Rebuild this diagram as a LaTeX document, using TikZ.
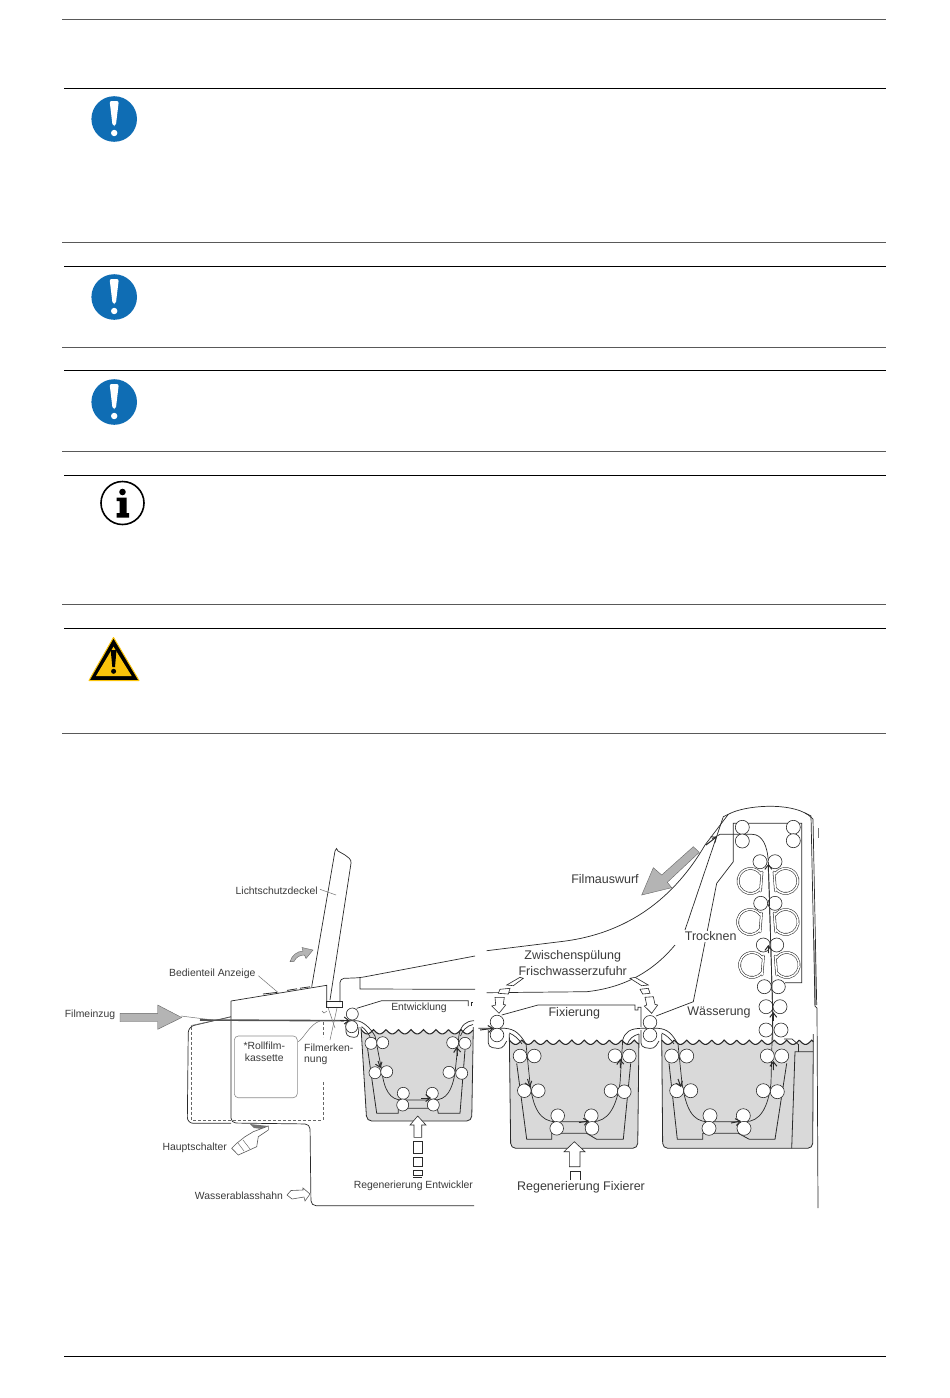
\documentclass[tikz,border=0pt]{standalone}
\usepackage{fontspec}
\setmainfont{Liberation Sans}
\usetikzlibrary{arrows.meta}
\definecolor{tankfill}{HTML}{D9D9D9}
\definecolor{ink}{HTML}{2A2A2A}
\definecolor{labelink}{HTML}{3A3A3A}
\definecolor{arrowgray}{HTML}{B4B4B4}
\definecolor{iconblue}{HTML}{0F6DB4}
\definecolor{signyellow}{HTML}{FAC30A}
\tikzset{
  rulerA/.style={draw=black!65,line width=0.9pt},
  rulerB/.style={draw=black,line width=0.8pt},
  mline/.style={draw=ink,line width=0.7pt},
  thinline/.style={draw=black!55,line width=0.5pt},
  guide/.style={draw=ink,line width=0.8pt},
  film/.style={draw=ink,line width=0.7pt},
  roller/.style={draw=ink,line width=0.6pt,fill=white},
  wave/.style={draw=ink,line width=1.1pt},
  tankedge/.style={draw=ink,line width=0.8pt},
  dashline/.style={draw=black!60,line width=0.45pt,dash pattern=on 3pt off 2pt},
  grayarrow/.style={fill=arrowgray,draw=black!60,line width=0.4pt},
  openarrow/.style={draw=ink,line width=0.6pt,fill=white},
  small/.style={text=labelink,inner sep=0pt,yshift=-0.8pt,font=\fontsize{10.4}{12}\selectfont},
  big/.style={text=labelink,inner sep=0pt,yshift=-0.8pt,font=\fontsize{12.5}{14}\selectfont},
  barb/.style={draw=ink,line width=1pt,-{Straight Barb[length=4.5pt,width=7pt]}},
}
\newcommand{\roll}[3]{\draw[roller] (#1,#2) circle (#3);}
\newcommand{\wavy}[3]{\draw[wave] plot[domain=#1:#2,samples=200] (\x,{#3+4.4*abs(sin(14.4*(\x-#1)))});}
\newcommand{\tankbody}[6]{% x-left top, x-right top, x-left bottom, x-right bottom, wave y, bottom y
  \fill[tankfill] plot[domain=#1:#2,samples=200] (\x,{#5+4.4*abs(sin(14.4*(\x-#1)))}) [rounded corners=5pt] -- (#4,#6) -- (#3,#6) [sharp corners] -- cycle;
}
\newcommand{\bluesign}[2]{%
  \fill[iconblue] (#1,#2) circle (22.8);
  \fill[white,rounded corners=2pt] (#1-4.6,#2-18) -- (#1+4.6,#2-18) -- (#1+1.6,#2+7) -- (#1-1.6,#2+7) -- cycle;
  \fill[white] (#1,#2+14) circle (3.2);
}
\newcommand{\dring}[3]{%
  \begin{scope}[shift={(#1,#2)},xscale=#3]
  \draw[draw=ink,line width=0.55pt,double=white,double distance=1.5pt,line join=round]
    (35:12.5) arc[start angle=35,end angle=325,radius=12.5] -- (11.5,-9) -- (10,10) -- cycle;
  \end{scope}
}
\begin{document}
\begin{tikzpicture}[x=1pt,y=-1pt]
\useasboundingbox (0,0) rectangle (950,1398);
\fill[white] (0,0) rectangle (950,1398);
% page rules
\draw[rulerA] (62,19) -- (886,19);
\foreach \y in {88,266,370,475,628} \draw[rulerB] (64,\y) -- (886,\y);
\foreach \y in {242,347,451,604,733} \draw[rulerA] (62,\y) -- (886,\y);
\draw[rulerB] (64,1356) -- (886,1356);
% icons
\bluesign{114.2}{119}
\bluesign{114.2}{297}
\bluesign{114.2}{402}
\draw[black,line width=1.6pt] (122.5,503) circle (21.5);
\fill[black] (122.5,492) circle (3.3);
\fill[black] (116.5,497.5) -- (126.5,497.5) -- (126.5,513) -- (129,513) -- (129,517.5) -- (116.5,517.5) -- (116.5,513) -- (119.5,513) -- (119.5,501) -- (116.5,501) -- cycle;
\draw[draw=signyellow,line width=1pt,fill=black,line join=round] (113.5,637.5) -- (139,680.5) -- (89,680.5) -- cycle;
\fill[signyellow] (113.5,646.7) -- (131.7,676) -- (96,676) -- cycle;
\fill[black] (110.7,650) -- (116.5,650) -- (115,667) -- (112.3,667) -- cycle;
\fill[black] (113.6,671.3) circle (2.5);
% lid
\draw[mline] (311.7,986.7) -- (335,851) -- (336.5,848.5) -- (338,851) -- (345,855) [rounded corners=3pt] -- (351.5,860) -- (330,1000);
% console
\draw[mline] (231,1001) -- (326.7,985.3) -- (326.7,1007.3);
\draw[draw=ink,line width=0.9pt] (326.7,1001.7) rectangle (342.3,1007.5);
\draw[draw=black!60,line width=0.4pt] (322,1011) -- (324,1013) -- (327,1011);
\draw[mline,rounded corners=5pt] (231,1001) -- (231,1123) -- (310,1124) -- (311,1205.7) -- (474,1205.7);
\draw[mline,rounded corners=6pt] (231,1016.7) -- (188.3,1026.7) -- (187.3,1123.3) -- (231,1123.3);
\draw[thinline] (191,1025.5) -- (231,1017);
\draw[dashline] (191.7,1026.7) -- (191.7,1120) -- (323.3,1120) -- (323.3,1081.7);
\draw[dashline] (323.3,1022) -- (323.3,1037);
\draw[draw=black!45,line width=0.6pt,rounded corners=4pt] (234.3,1036) rectangle (297.3,1097.7);
% console top panel details
\draw[draw=ink,line width=0.8pt] (263,994) -- (277,992.4);
\draw[draw=ink,line width=0.8pt] (287,990.4) -- (297,988.8);
\draw[draw=ink,line width=0.8pt] (300,988.2) -- (310,986.8);
% film entry
\draw[thinline] (181,1016) -- (213,1020);
\draw[draw=black!68,line width=1.6pt] (200,1020) -- (344,1020.7);
% filmeinzug arrow
\draw[grayarrow] (120,1013.3) -- (157.7,1013.3) -- (157.7,1005) -- (181.7,1017.5) -- (157.7,1029.3) -- (157.7,1021.7) -- (120,1021.7) -- cycle;
% lid arrow
\draw[grayarrow] (290,961.7) .. controls (292,955) and (297,951.5) .. (303,951) -- (302,947.5) -- (313,950) -- (306,958.5) -- (304.5,955) .. controls (300,955) and (296,957) .. (294,961.5) -- cycle;
% upper covers
\draw[mline,rounded corners=4pt] (340,1002) -- (340,978.5) -- (360,977.7) -- (475,956);
\draw[mline] (360,977.7) -- (360,989) -- (475,989.3);
\draw[mline] (356.7,1008.3) -- (381.7,1000.7) -- (468.3,1000.7) -- (468.3,1006);
\draw[mline] (471,1006) -- (471,1002.5) -- (473,1002.5);
\draw[mline] (486.7,992.7) -- (586.7,991.7) .. controls (620,988) and (650,975) .. (675,945);
\draw[mline] (486.7,950.7) -- (560,941.7) .. controls (620,935) and (670,905) .. (705,845) -- (728.3,814.3);
\draw[mline] (501.7,1015) -- (538,1005) -- (635,1005) -- (635,1010) -- (638,1010) -- (638,1007.3) -- (641,1007.3) -- (641,1027);
\draw[mline] (656,1016) -- (693.3,1001.7) -- (716.7,883.3) -- (733.3,861.7) -- (733.3,823.3) -- (801.7,823.3) -- (801.7,982.7) -- (785,982.7);
% hood
\draw[mline] (685,930) -- (723.3,816.7) -- (728.3,814.3) .. controls (745,805) and (790,802) .. (808.3,815) -- (813,819) -- (816.7,1005);
\draw[mline] (805,813) -- (811,816) -- (815,1005);
\draw[mline] (815,940) -- (815,1006) -- (817,1008) -- (818,1208);
\draw[thinline] (818.3,828) -- (818.3,838);
% filmauswurf arrow
\draw[grayarrow] (641.7,895) -- (653.3,867.7) -- (661.7,875) -- (693.3,846.7) -- (699.3,852.3) -- (667.3,882.3) -- (671.7,887.7) -- cycle;
% tanks
\tankbody{361}{473}{366.7}{471.7}{1029.5}{1121}
\draw[tankedge,rounded corners=5pt] (361,1027) -- (366.7,1121) -- (471.7,1121) -- (473.3,1027);
\tankbody{509.3}{639}{510.7}{637.7}{1040}{1148.3}
\draw[tankedge,rounded corners=5pt] (509.3,1034) -- (510.7,1148.3) -- (637.7,1148.3) -- (639,1034);
\tankbody{661.7}{813.3}{662.7}{812.7}{1040}{1148.3}
\draw[tankedge,rounded corners=5pt] (661.7,1034) -- (662.7,1148.3) -- (812.7,1148.3) -- (813.3,1034);
\draw[tankedge] (791.7,1148.3) -- (795,1051.7) -- (813,1051.7);
\draw[tankedge] (798.3,1044) -- (798.3,1052);
\draw[mline] (784,1039) -- (792,1039) -- (798.3,1044.5);
\wavy{361}{473}{1029.5}
\wavy{509.3}{639}{1040}
\wavy{661.7}{813.3}{1040}
% second arcs at the tank rims
\draw[film] (361.7,1026.7) .. controls (365,1029) and (368,1033) .. (370,1036.7);
\draw[film] (460.5,1036) .. controls (462,1031) and (467,1025.5) .. (473,1024.5);
\draw[film] (509.3,1033) .. controls (514,1035) and (519,1039) .. (522,1044);
\draw[film] (627,1045) .. controls (629,1039) and (633,1035.5) .. (639,1034);
\draw[film] (661.7,1033) .. controls (666,1035) and (671,1039) .. (674,1044);
% guides
\draw[guide] (367.5,1048) -- (376.7,1113.3) -- (398.3,1113.3) -- (398.3,1108.3) -- (437.3,1108.3) -- (438.3,1113.3) -- (460,1113.3) -- (465,1050);
\draw[guide] (516.7,1063.3) -- (526.7,1139.3) -- (551.7,1139.3) -- (551.7,1133.3) -- (586.7,1133.3) -- (596.7,1139.3) -- (623.3,1139.3) -- (630.7,1063.3);
\draw[guide] (669,1063.3) -- (677.3,1139.3) -- (702.7,1139.3) -- (702.7,1133.3) -- (738.3,1133.3) -- (749.3,1139.3) -- (775,1139.3) -- (786.7,1063.3);
% film paths
\draw[film] (344,1020.7) -- (356.7,1020.7) .. controls (362,1021) and (370,1027) .. (375,1036) -- (381.7,1070) .. controls (384,1090) and (390,1100) .. (402,1100) -- (434,1100) .. controls (447,1100) and (452,1090) .. (455,1073) -- (459,1035) .. controls (461,1025) and (466,1021) .. (474,1020.7);
\draw[film] (478.3,1028.3) -- (505,1028.3) .. controls (515,1029) and (520,1034) .. (526,1044) -- (530,1083.3) .. controls (533,1108) and (540,1121.7) .. (556,1121.7) -- (592,1121.7) .. controls (608,1121.7) and (616,1108) .. (620,1083.3) -- (622.7,1040) .. controls (625,1032) and (630,1028.3) .. (642,1028.3) -- (658,1028.3) .. controls (668,1029) and (672,1034) .. (678,1044) -- (682,1083.3) .. controls (686,1108) and (692,1121.7) .. (708,1121.7) -- (745,1121.7) .. controls (760,1121.7) and (768,1108) .. (771,1083.3) -- (772.7,1011.7) -- (768.3,862) .. controls (767.5,845) and (762,834.3) .. (752,834.3) -- (720,834.3) -- (712,839);
% small loops under entry rollers
\draw[mline,rounded corners=4pt] (346,1022) -- (346,1036) -- (358,1038) -- (359,1027);
\draw[mline,rounded corners=4pt] (488.3,1030) -- (488.3,1047) -- (502,1049) -- (506.7,1041);
\draw[mline,rounded corners=4pt] (641,1030) -- (641,1047) -- (654,1049) -- (659,1041);
% rollers tank 1
\foreach \a/\b in {352.3/1014,351.7/1026.7,371/1043.3,382.7/1042.7,375/1072.7,386.7/1071.7,403.3/1093.3,402.7/1105,432.3/1093.3,433.3/1105,449/1072.3,461.7/1073.3,452.7/1042.7,465/1043.3}{\roll{\a}{\b}{6}}
% rollers tank 2
\foreach \a/\b in {497/1022,497/1035,650/1022.3,650/1035,520/1056,534.3/1056,524.3/1090.7,538.3/1090.7,557.7/1115.7,556.7/1128.3,591.3/1115.7,592/1128.3,611/1090.7,624.3/1091.7,615/1055.7,629.3/1056}{\roll{\a}{\b}{6.8}}
% rollers tank 3 and column
\foreach \a/\b in {671.7/1056,686.7/1056,676.7/1090.7,690.7/1090.7,710/1115.7,709/1128.3,743.3/1115.7,744/1128.3,763.3/1090.7,777.3/1091.7,767.3/1056,781.7/1056,766/1030,781/1030,766/1006.7,780/1006.7,764.3/986.7,778.3/986.7,763.3/945,776.7/945,760.7/903.3,775/903.3,760/861.7,775/861.7,742.3/827.3,742.3/841,793.3/827.3,793.3/840.7}{\roll{\a}{\b}{7}}
% dryer rings
\dring{750.5}{881}{1}
\dring{785.5}{881}{-1}
\dring{750}{922}{1}
\dring{785.7}{922}{-1}
\dring{752}{965}{1}
\dring{786.7}{965}{-1}
% centre line through the dryer on top of rollers
\draw[film] (772.7,1040) -- (772.7,1011.7) -- (768.3,862);
% film arrows
\draw[barb] (340,1020.5) -- (349.5,1020.5);
\draw[barb] (378,1061) -- (380.5,1068);
\draw[barb] (421,1098) -- (431,1098);
\draw[barb] (457.5,1056) -- (456.7,1047);
\draw[barb] (480,1030) -- (493.5,1028.3);
\draw[barb] (527.5,1079) -- (530,1087);
\draw[barb] (579,1122.5) -- (589,1121);
\draw[barb] (620.5,1068) -- (620,1059);
\draw[barb] (678,1079) -- (681,1087);
\draw[barb] (731,1123) -- (741,1121);
\draw[barb] (773.5,1070) -- (773.3,1061);
\draw[barb] (773.3,1021) -- (773.3,1012);
\draw[barb] (768.5,953) -- (768.3,945);
\draw[barb] (768.4,871) -- (768.3,864);
\draw[barb] (706,845) -- (717,836.5);
% frischwasser arrows
\draw[openarrow] (506.7,985) -- (520,977.3) -- (523.3,978.3) -- (513.3,985.7) -- cycle;
\draw[openarrow] (500,989.3) -- (510,988.3) -- (508.3,994) -- (498.3,993.3) -- cycle;
\draw[openarrow] (495,997.3) -- (504.3,997.3) -- (503.3,1004.3) -- (505.7,1005) -- (499,1013.3) -- (491.7,1006) -- (495.7,1005) -- cycle;
\draw[openarrow] (630,978.3) -- (635,977.3) -- (648.3,985) -- (641.7,985.7) -- cycle;
\draw[openarrow] (640,989.3) -- (648.3,988.3) -- (650,993.3) -- (642.7,994) -- cycle;
\draw[openarrow] (645,997.3) -- (653.3,996.7) -- (655,1004.3) -- (657.7,1005) -- (651.7,1013.3) -- (644.3,1006) -- (646.7,1005) -- cycle;
% regeneration arrows
\draw[openarrow] (417.7,1116) -- (426,1125) -- (421.7,1125) -- (421.7,1137.3) -- (414,1137.3) -- (414,1125) -- (410,1125) -- cycle;
\draw[mline] (413.3,1141.7) rectangle (422.3,1153.3);
\draw[mline] (413.3,1157.7) rectangle (422.3,1166.7);
\draw[mline] (413.3,1170) rectangle (422.3,1175);
\draw[mline] (413.3,1177.3) -- (422.3,1177.3);
\draw[openarrow] (574.3,1141.7) -- (585,1151.7) -- (580,1151.7) -- (580,1166.7) -- (569.3,1166.7) -- (569.3,1151.7) -- (564,1151.7) -- cycle;
\draw[mline] (570,1180) -- (570,1171.7) -- (580,1171.7) -- (580,1180);
% hand and switch
\fill[black!55] (250,1124) -- (268,1126) -- (262,1129) -- (254,1128) -- cycle;
\draw[draw=black!65,line width=0.6pt,fill=white] (231.7,1148.3) -- (238.3,1155) -- (256.7,1146.7) -- (258.3,1136.7) -- (268.3,1130) -- (268.3,1126) -- (253.3,1131.7) -- (245,1136.7) -- (236.7,1143.3) -- cycle;
\draw[draw=black!65,line width=0.4pt] (238,1143) -- (244,1151);
\draw[draw=black!65,line width=0.4pt] (243,1140) -- (250,1149);
% wasserablass arrow
\draw[draw=black!65,line width=0.6pt,fill=white] (287,1195) -- (291,1190.5) -- (303,1190) -- (303,1188) -- (310,1194) -- (305,1201) -- (304,1197) -- (292,1199) -- cycle;
% leaders
\draw[thinline] (320,889.3) -- (336,895);
\draw[thinline] (258.3,975.7) -- (278.3,992.7);
\draw[thinline] (298.3,1041.7) .. controls (304,1038) and (310,1024) .. (320,1021);
\draw[thinline] (328.3,1008.3) -- (335,1028);
\draw[thinline] (337,1008) -- (330,1040);
% labels
\node[small] (lbldeckel) at (276.7,890) {Lichtschutzdeckel};
\node[small] (lblbedien) at (212.3,972.7) {Bedienteil Anzeige};
\node[small] (lbleinzug) at (90,1014) {Filmeinzug};
\node[small] (lblroll1) at (264.3,1044.5) {*Rollfilm-};
\node[small] (lblroll2) at (264.3,1057) {kassette};
\node[small,anchor=west] (lblerk1) at (304,1046.7) {Filmerken-};
\node[small,anchor=west] (lblerk2) at (304,1060) {nung};
\node[small] (lblentw) at (419,1007.3) {Entwicklung};
\node[small] (lblhaupt) at (194.7,1146.7) {Hauptschalter};
\node[small] (lblwasser) at (239,1195.3) {Wasserablasshahn};
\node[small] (lblregent) at (413.3,1185.3) {Regenerierung Entwickler};
\node[big] (lblzwisch) at (572.7,955) {Zwischenspülung};
\node[big] (lblfrisch) at (572.7,970) {Frischwasserzufuhr};
\node[big] (lblfix) at (574.3,1012.7) {Fixierung};
\node[big] (lblwaess) at (719,1011.7) {Wässerung};
\node[big] (lblregfix) at (581,1186.7) {Regenerierung Fixierer};
\node[big,fill=white,inner sep=1pt] (lbltrock) at (710.7,935.7) {Trocknen};
\node[big] (lblausw) at (605,878.3) {Filmauswurf};
\end{tikzpicture}
\end{document}
